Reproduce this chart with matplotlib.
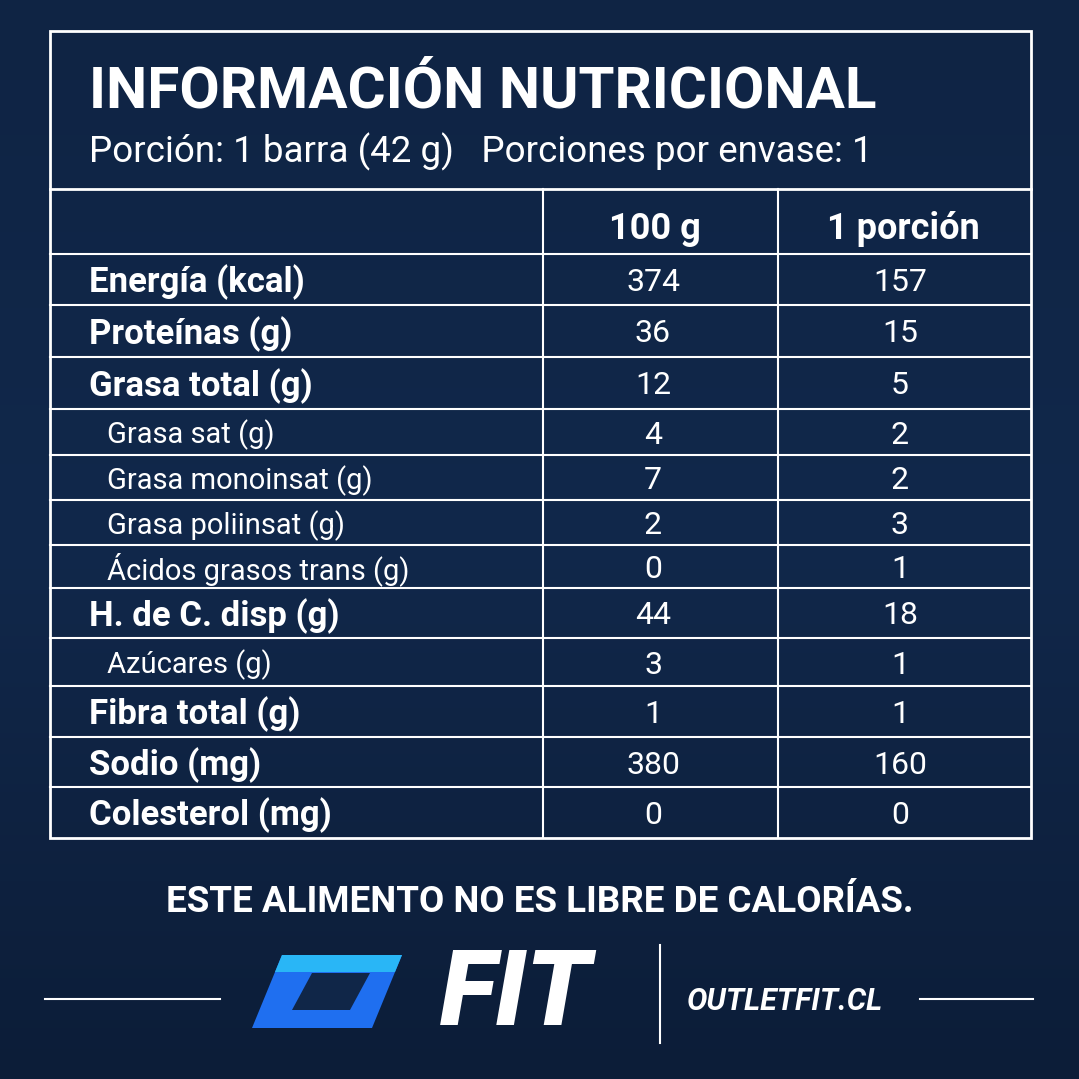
import numpy as np
import matplotlib.pyplot as plt
from matplotlib.patches import Polygon, Rectangle

# %% Data
title = 'INFORMACIÓN NUTRICIONAL'
subtitle = 'Porción: 1 barra (42 g)   Porciones por envase: 1'
col_heads = ['100 g', '1 porción']
labels = ['Energía (kcal)', 'Proteínas (g)', 'Grasa total (g)', 'Grasa sat (g)',
          'Grasa monoinsat (g)', 'Grasa poliinsat (g)', 'Ácidos grasos trans (g)',
          'H. de C. disp (g)', 'Azúcares (g)', 'Fibra total (g)', 'Sodio (mg)',
          'Colesterol (mg)']
sub_row = [False, False, False, True, True, True, True, False, True, False, False, False]
per_100g = ['374', '36', '12', '4', '7', '2', '0', '44', '3', '1', '380', '0']
per_portion = ['157', '15', '5', '2', '2', '3', '1', '18', '1', '1', '160', '0']
row_edges = [254, 305, 357, 409, 455, 500, 545, 588, 638, 686, 737, 787, 838]

plt.rcParams['font.family'] = ['Roboto', 'DejaVu Sans']

fig = plt.figure(figsize=(10.79, 10.79), dpi=100)
ax = fig.add_axes([0, 0, 1, 1])
ax.set_xlim(0, 1079)
ax.set_ylim(1079, 0)
ax.axis('off')

# background gradient
grad = np.linspace(0, 1, 256).reshape(-1, 1)
ax.imshow(grad, extent=[0, 1079, 1079, 0], cmap=plt.matplotlib.colors.LinearSegmentedColormap.from_list(
    'bg', ['#0f2444', '#11284b', '#0c1d38']), aspect='auto', zorder=0)

W = 'white'
# table frame
ax.add_patch(Rectangle((50, 31), 981, 807, fill=False, ec=W, lw=2, zorder=2))
ax.plot([50, 1031], [189, 189], color=W, lw=2)
ax.plot([543, 543], [189, 838], color=W, lw=1.5)
ax.plot([778, 778], [189, 838], color=W, lw=1.5)
for y in row_edges[:-1]:
    ax.plot([50, 1031], [y, y], color=W, lw=1.5)

ax.text(89, 92, title, color=W, fontsize=42, fontweight='bold', va='center', ha='left')
ax.text(89, 152, subtitle, color=W, fontsize=26.5, va='center', ha='left')
ax.text(655, 229, col_heads[0], color=W, fontsize=26, fontweight='bold', va='center', ha='center')
ax.text(903, 229, col_heads[1], color=W, fontsize=26, fontweight='bold', va='center', ha='center')

for i, lab in enumerate(labels):
    yc = (row_edges[i] + row_edges[i + 1]) / 2 + 3
    if sub_row[i]:
        ax.text(107, yc, lab, color=W, fontsize=21, va='center', ha='left')
    else:
        ax.text(89, yc, lab, color=W, fontsize=25, fontweight='bold', va='center', ha='left')
    ax.text(653, yc, per_100g[i], color=W, fontsize=23, va='center', ha='center')
    ax.text(900, yc, per_portion[i], color=W, fontsize=23, va='center', ha='center')

ax.text(540, 902, 'ESTE ALIMENTO NO ES LIBRE DE CALORÍAS.', color=W, fontsize=26.5,
        fontweight='bold', va='center', ha='center')

# footer logo
ax.plot([45, 220], [999, 999], color=W, lw=1.5)
ax.plot([920, 1033], [999, 999], color=W, lw=1.5)
ax.plot([660, 660], [945, 1043], color=W, lw=1.5)
ax.add_patch(Polygon([[282, 955], [402, 955], [372, 1028], [252, 1028]], closed=True,
                     fc='#1f6ff0', ec='none', zorder=3))
ax.add_patch(Polygon([[312, 973], [370, 973], [350, 1010], [292, 1010]], closed=True,
                     fc='#102648', ec='none', zorder=4))
ax.add_patch(Polygon([[282, 955], [402, 955], [395, 972], [275, 972]], closed=True,
                     fc='#29b6f6', ec='none', zorder=3))
ax.text(516, 996, 'FIT', color=W, fontsize=76, fontweight='black', style='italic',
        va='center', ha='center')
ax.text(785, 1001, 'OUTLETFIT.CL', color=W, fontsize=22, fontweight='bold', style='italic',
        va='center', ha='center')

fig.savefig('out.png', dpi=100)
